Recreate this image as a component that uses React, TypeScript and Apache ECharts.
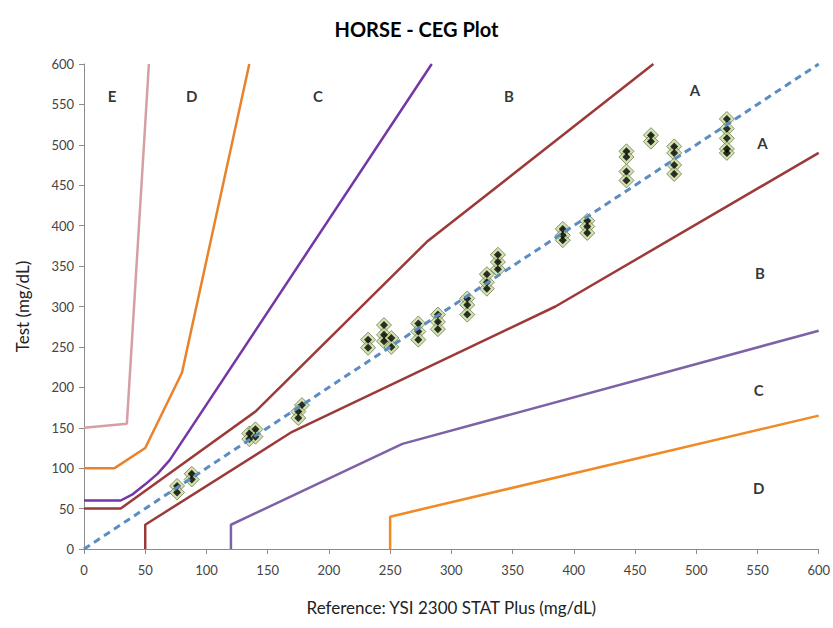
import React, { useEffect, useRef } from "react";
import * as echarts from "echarts";

const title = "HORSE - CEG Plot";
const xName = "Reference: YSI 2300 STAT Plus (mg/dL)";
const yName = "Test (mg/dL)";

// zone boundary lines [reference, test]
const lineE = [[0, 150], [35, 155], [53, 600]];
const lineDUpper = [[0, 100], [25, 100], [50, 125], [80, 218], [135, 600]];
const lineCUpper = [[0, 60], [30, 60], [40, 68], [50, 80], [60, 93], [70, 110], [284, 600]];
const lineBUpper = [[0, 50], [30, 50], [140, 170], [280, 380], [465, 600]];
const lineA = [[0, 0], [600, 600]];
const lineBLower = [[50, 0], [50, 30], [170, 145], [385, 300], [600, 490]];
const lineCLower = [[120, 0], [120, 30], [260, 130], [600, 270]];
const lineDLower = [[250, 0], [250, 40], [600, 165]];

// zone labels
const zoneNames = ["E", "D", "C", "B", "A", "A", "B", "C", "D"];
const zoneX = [23, 88, 191, 347, 499, 554, 552, 551, 551];
const zoneY = [560, 560, 560, 560, 568, 502, 341, 197, 75];

// measured samples
const refValues = [
  76, 76, 88, 88,
  135, 135, 140, 140,
  178, 175, 175,
  232, 232, 245, 245, 245, 251, 251,
  273, 273, 273,
  289, 289, 289,
  313, 313, 313,
  329, 329, 329, 338, 338, 338,
  391, 391, 391,
  411, 411, 411,
  443, 443, 443, 443,
  463, 463,
  482, 482, 482, 482,
  525, 525, 525, 525, 525,
];
const testValues = [
  78, 70, 93, 86,
  143, 136, 148, 139,
  178, 170, 162,
  259, 249, 277, 265, 257, 261, 250,
  279, 269, 259,
  290, 281, 272,
  310, 302, 290,
  322, 330, 340, 346, 355, 364,
  396, 388, 382,
  406, 399, 391,
  492, 485, 467, 456,
  512, 504,
  498, 490, 475, 464,
  532, 520, 508, 495, 490,
];

const FONT = "Lato, 'Open Sans', sans-serif";

function lineSeries(data: number[][], color: string, width = 2.5, type: any = "solid") {
  return {
    type: "line",
    data,
    symbol: "none",
    silent: true,
    lineStyle: { color, width, type },
    z: 2,
  };
}

export default function App() {
  const ref = useRef<HTMLDivElement>(null);
  useEffect(() => {
    if (!ref.current) return;
    const chart = echarts.init(ref.current, undefined, { renderer: "svg" });
    const points = refValues.map((r, i) => [r, testValues[i]]);
    const zones = zoneNames.map((n, i) => ({ name: n, value: [zoneX[i], zoneY[i]] }));
    chart.setOption({
      animation: false,
      backgroundColor: "#ffffff",
      title: {
        text: title,
        left: "center",
        top: 14,
        textStyle: { fontFamily: FONT, fontSize: 20, fontWeight: "bold", color: "#000" },
      },
      grid: { left: 84, right: 11, top: 64, bottom: 79 },
      xAxis: {
        type: "value",
        min: 0,
        max: 600,
        interval: 50,
        name: xName,
        nameLocation: "middle",
        nameGap: 50,
        nameTextStyle: { fontFamily: FONT, fontSize: 17, color: "#222" },
        axisLine: { show: true, lineStyle: { color: "#8c8c8c", width: 1 } },
        axisTick: { show: true, length: 5, lineStyle: { color: "#8c8c8c" } },
        axisLabel: { fontFamily: FONT, fontSize: 13, color: "#444", margin: 14 },
        splitLine: { show: false },
      },
      yAxis: {
        type: "value",
        min: 0,
        max: 600,
        interval: 50,
        name: yName,
        nameLocation: "middle",
        nameGap: 53,
        nameTextStyle: { fontFamily: FONT, fontSize: 17, color: "#222" },
        axisLine: { show: true, lineStyle: { color: "#8c8c8c", width: 1 } },
        axisTick: { show: true, length: 5, lineStyle: { color: "#8c8c8c" } },
        axisLabel: { fontFamily: FONT, fontSize: 13, color: "#444", margin: 10 },
        splitLine: { show: false },
      },
      series: [
        lineSeries(lineE, "#d4a0a4"),
        lineSeries(lineDUpper, "#e8822c"),
        lineSeries(lineCUpper, "#7536a8"),
        lineSeries(lineBUpper, "#9c3a3a"),
        lineSeries(lineBLower, "#9c3a3a"),
        lineSeries(lineCLower, "#7e62a6"),
        lineSeries(lineDLower, "#f08a24"),
        {
          type: "scatter",
          data: points,
          symbol: "diamond",
          symbolSize: 15,
          silent: true,
          itemStyle: { color: "rgba(190,214,140,0.85)", borderColor: "#6b7a50", borderWidth: 1 },
          z: 3,
        },
        {
          type: "scatter",
          data: points,
          symbol: "diamond",
          symbolSize: 8,
          silent: true,
          itemStyle: { color: "#000" },
          z: 4,
        },
        { ...lineSeries(lineA, "#5b8dc2", 3, [7, 5]), z: 5 },
        {
          type: "scatter",
          data: zones,
          symbolSize: 1,
          silent: true,
          itemStyle: { color: "rgba(0,0,0,0)" },
          label: {
            show: true,
            position: "inside",
            formatter: "{b}",
            fontFamily: FONT,
            fontSize: 15,
            fontWeight: "bold",
            color: "#000",
          },
          z: 6,
        },
      ],
    });
    return () => chart.dispose();
  }, []);
  return <div ref={ref} style={{ width: 833, height: 628, position: "absolute", left: 0, top: 0 }} />;
}
